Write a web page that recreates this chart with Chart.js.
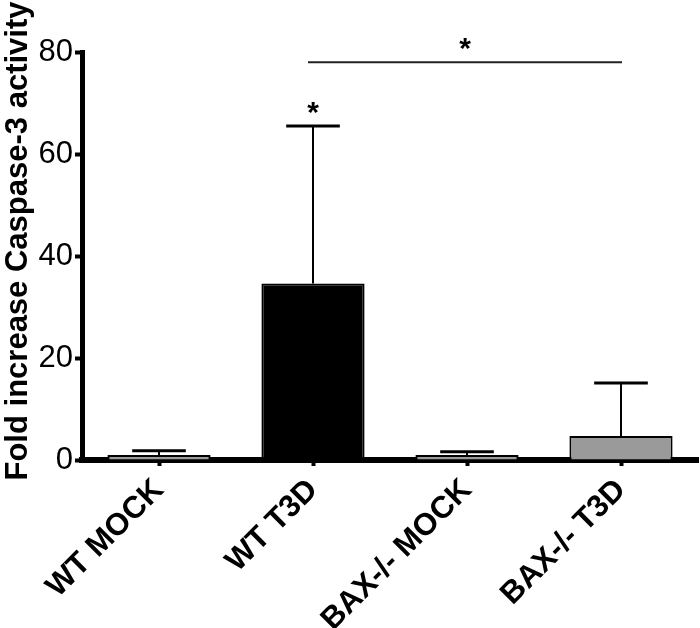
<!DOCTYPE html>
<html>
<head>
<meta charset="utf-8">
<script src="https://cdn.jsdelivr.net/npm/chart.js@4/dist/chart.umd.min.js"></script>
<style>
html,body{margin:0;padding:0;background:#fff;}
#wrap{width:700px;height:628px;position:relative;}
</style>
</head>
<body>
<div id="wrap"><canvas id="c" width="700" height="628"></canvas></div>
<script>
const categories = ['WT MOCK', 'WT T3D', 'BAX-/- MOCK', 'BAX-/- T3D'];
const means = [1.0, 34.6, 1.0, 4.7];
const errorsUp = [0.8, 30.9, 0.6, 10.4];
const barColors = ['#9a9a9a', '#000000', '#9a9a9a', '#9a9a9a'];
const yTickMin = 0, yTickMax = 80, yTickStep = 20;
const yTitle = 'Fold increase Caspase-3 activity';
const sigBracket = {from: 1, to: 3, value: 78, label: '*'};
const barStars = [{index: 1, label: '*'}];

const FONT = '"Liberation Sans", Arial, Helvetica, sans-serif';

const extrasPlugin = {
  id: 'extras',
  afterDatasetsDraw(chart) {
    const ctx = chart.ctx;
    const x = chart.scales.x, y = chart.scales.y;
    const meta = chart.getDatasetMeta(0);
    ctx.save();
    // error bars
    meta.data.forEach((bar, i) => {
      const cx = bar.x;
      const top = y.getPixelForValue(means[i]);
      const et = y.getPixelForValue(means[i] + errorsUp[i]);
      const capHalf = bar.width * 0.26;
      ctx.strokeStyle = '#000';
      ctx.lineWidth = 2;
      ctx.beginPath();
      ctx.moveTo(cx, top);
      ctx.lineTo(cx, et);
      ctx.stroke();
      ctx.lineWidth = 3;
      ctx.beginPath();
      ctx.moveTo(cx - capHalf, et);
      ctx.lineTo(cx + capHalf, et);
      ctx.stroke();
    });
    // significance bracket
    const x1 = x.getPixelForValue(sigBracket.from) - 5;
    const x2 = x.getPixelForValue(sigBracket.to) + 1;
    const sy = y.getPixelForValue(sigBracket.value);
    ctx.strokeStyle = '#222';
    ctx.lineWidth = 2;
    ctx.beginPath();
    ctx.moveTo(x1, sy);
    ctx.lineTo(x2, sy);
    ctx.stroke();
    ctx.fillStyle = '#000';
    ctx.font = 'bold 30px ' + FONT;
    ctx.textAlign = 'center';
    ctx.textBaseline = 'middle';
    ctx.fillText(sigBracket.label, (x1 + x2) / 2, sy - 12);
    barStars.forEach(s => {
      const bx = x.getPixelForValue(s.index);
      const by = y.getPixelForValue(means[s.index] + errorsUp[s.index]);
      ctx.fillText(s.label, bx, by - 12);
    });
    // y title
    ctx.translate(18, 241);
    ctx.rotate(-Math.PI / 2);
    ctx.font = 'bold 31px ' + FONT;
    ctx.fillText(yTitle, 0, 0);
    ctx.restore();
  }
};

new Chart(document.getElementById('c'), {
  type: 'bar',
  data: {
    labels: categories,
    datasets: [{
      data: means,
      backgroundColor: barColors,
      borderColor: '#000',
      borderWidth: 2,
      borderSkipped: 'start',
      categoryPercentage: 0.67,
      barPercentage: 1.0
    }]
  },
  options: {
    responsive: false,
    animation: false,
    events: [],
    layout: {padding: {top: 52, right: 2, left: 0, bottom: 0}},
    plugins: {legend: {display: false}, tooltip: {enabled: false}, title: {display: false}},
    scales: {
      x: {
        z: 1,
        grid: {display: true, drawOnChartArea: false, drawTicks: true, offset: false, tickLength: 6, tickWidth: 4, color: '#000'},
        border: {display: true, color: '#000', width: 6},
        ticks: {
          color: '#000',
          font: {family: FONT, size: 31, weight: 'bold'},
          maxRotation: 45, minRotation: 45, autoSkip: false, padding: 6
        },
        afterFit(s) { s.height = 168; }
      },
      y: {
        min: yTickMin, max: yTickMax,
        grid: {display: true, drawOnChartArea: false, drawTicks: true, tickLength: 7, tickWidth: 4, color: '#000'},
        border: {display: true, color: '#000', width: 5},
        ticks: {
          stepSize: yTickStep, color: '#000',
          font: {family: FONT, size: 31},
          padding: 2
        },
        afterFit(s) { s.width = 82; }
      }
    }
  },
  plugins: [extrasPlugin]
});
</script>
</body>
</html>
